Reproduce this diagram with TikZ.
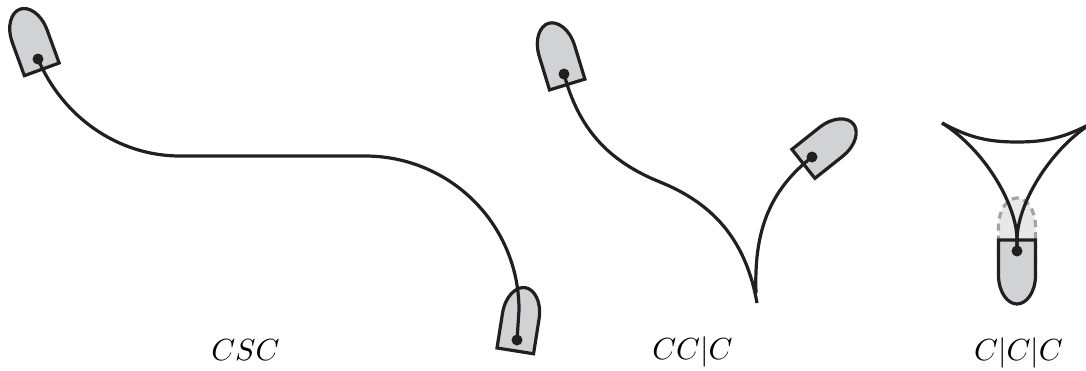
\documentclass[tikz,border=0pt]{standalone}
\usepackage{amsmath}
\usepackage{xcolor}
\usetikzlibrary{positioning}
\definecolor{dubInk}{HTML}{231F20}
\definecolor{dubFill}{HTML}{D0D2D3}
\definecolor{dubGhost}{HTML}{E8E8E8}
\definecolor{dubDash}{HTML}{A3A3A3}
\tikzset{
  dubhull/.style={draw=dubInk,fill=dubFill,line width=3.2pt,line join=miter},
  dubghost/.style={draw=dubDash,fill=dubGhost,line width=3.2pt,dash pattern=on 7pt off 5pt},
  dubdot/.style={circle,fill=dubInk,minimum size=11pt,inner sep=0pt},
  dubpath/.style={draw=dubInk,line width=3.2pt},
  dublabel/.style={anchor=base,inner sep=0pt,scale=3.05},
  pics/boat/.style={code={
    \path[#1] (-18.5,11) -- (18.5,11) -- (18.5,-24)
      .. controls (18.5,-42) and (9,-53) .. (0,-53)
      .. controls (-9,-53) and (-18.5,-42) .. (-18.5,-24) -- cycle;
  }}
}
\begin{document}
\begin{tikzpicture}[x=1pt,y=-1pt]
    \useasboundingbox (0,0) rectangle (1086,370);
    \clip (0,0) rectangle (1086,370);
    % hulls first, the paths run on top of them
    \pic[rotate=20] at (38,59) {boat=dubhull};
    \pic[rotate=17] at (564,74) {boat=dubhull};
    \pic[rotate=-51.5] at (812,157) {boat=dubhull};
    \pic[rotate=-9] at (517,340) {boat=dubhull};
    \pic at (1017,251) {boat=dubghost};
    \pic[rotate=180] at (1017,251) {boat=dubhull};

    \node[dubdot] (cscstart) at (38,59) {};
    \node[dubdot] (cscend) at (517,340) {};
    \node[dubdot] (ccstart) at (564,74) {};
    \node[dubdot] (ccend) at (812,157) {};
    \node[dubdot] (cccdot) at (1017,251) {};

    \coordinate (cscleft) at (180,156);
    \coordinate (cscright) at (365,156);
    \coordinate (cscbend) at (519,310);
    \coordinate (ccjoin) at (660,182);
    \coordinate (cccusp) at (757,303);
    \coordinate (cccleft) at (942,123);
    \coordinate (cccright) at (1092,123);
    \coordinate (ccctop) at (1017,142);

    \draw[dubpath] (cscstart.center) to[out=-67,in=180,looseness=0.93] (cscleft) -- (cscright)
      to[out=0,in=90] (cscbend) -- (cscend.center);
    \draw[dubpath] (ccstart.center) to[out=-75,in=158] (ccjoin)
      to[out=-22,in=100] (cccusp);
    \draw[dubpath] (cccusp) ++(-1,-10) to[out=92,in=218] (ccend.center);
    \draw[dubpath] (cccdot.center) -- ++(0,-11)
      .. controls (1017,205) and (985,150) .. (cccleft);
    \draw[dubpath] (cccdot.center) -- ++(0,-11)
      .. controls (1017,205) and (1049,150) .. (cccright);
    \draw[dubpath] (cccleft) to[out=-28,in=180] (ccctop) to[out=0,in=208] (cccright);

    \node[dublabel] (csclabel) at (245.5,360) {$CSC$};
    \node[dublabel] (cclabel) at (692.5,359) {$CC|C$};
    \node[dublabel] (ccclabel) at (1018.5,360) {$C|C|C$};
  \end{tikzpicture}
\end{document}
